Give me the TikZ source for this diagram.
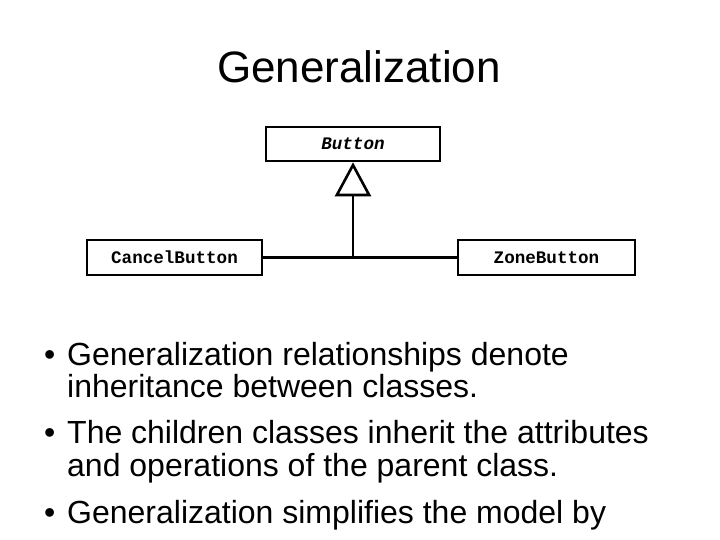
\documentclass[tikz,border=0pt]{standalone}
\usepackage{fontspec}
\setmainfont{Liberation Sans}
\newfontfamily\monofam{Liberation Mono}
\usetikzlibrary{arrows.meta}
\tikzset{
  classbox/.style={draw, line width=2.6pt, minimum height=35pt, inner sep=0pt,
    font=\monofam\bfseries\fontsize{17.6}{20}\selectfont},
  body/.style={anchor=base west, inner sep=0pt, font=\fontsize{32}{36}\selectfont},
  conn/.style={line width=2.6pt},
}
\begin{document}
\begin{tikzpicture}[x=1pt,y=-1pt]
\useasboundingbox (0,0) rectangle (720,540);
\fill[white] (0,0) rectangle (720,540);
\node[anchor=base, inner sep=0pt, font=\fontsize{44}{50}\selectfont] (title) at (359,83) {Generalization};

\node[classbox, minimum width=174pt, minimum height=34pt, font=\monofam\bfseries\itshape\fontsize{17.6}{20}\selectfont] (button) at (353,144) {Button};
\node[classbox, minimum width=175pt] (cancel) at (174.5,257.5) {CancelButton};
\node[classbox, minimum width=177pt] (zone) at (546.5,257.5) {ZoneButton};

\coordinate (j) at (button.south |- cancel.east);
\draw[conn] (cancel.east) -- (zone.west);
\draw[conn, -{Triangle[open, length=34pt, width=36pt]}] (j) -- (button.south);

\node[body] (b1) at (44,365) {•};
\node[body] (l1) at (67,365) {Generalization relationships denote};
\node[body] (l2) at (67,397) {inheritance between classes.};
\node[body] (b2) at (44,443) {•};
\node[body] (l3) at (67,443) {The children classes inherit the attributes};
\node[body] (l4) at (67,476) {and operations of the parent class.};
\node[body] (b3) at (44,523) {•};
\node[body] (l5) at (67,523) {Generalization simplifies the model by};
\end{tikzpicture}
\end{document}
